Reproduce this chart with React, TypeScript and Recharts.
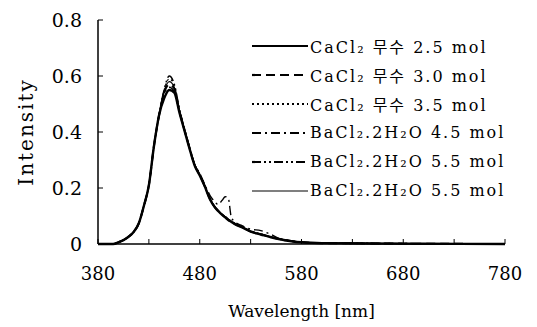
import React from 'react';
import { LineChart, Line, XAxis, YAxis, Legend } from 'recharts';

const wavelengths = [380, 395, 400, 405, 410, 415, 420, 425, 430, 435, 440, 445, 450, 455, 460, 465, 470, 475, 480, 485, 490, 495, 498, 502, 505, 508, 511, 515, 520, 530, 540, 550, 560, 570, 580, 600, 650, 700, 780];

const cacl2_25 = [0, 0, 0.006, 0.014, 0.026, 0.043, 0.073, 0.135, 0.21, 0.35, 0.46, 0.52, 0.55, 0.54, 0.47, 0.405, 0.34, 0.28, 0.245, 0.205, 0.16, 0.13, 0.118, 0.104, 0.095, 0.086, 0.079, 0.07, 0.062, 0.044, 0.034, 0.024, 0.016, 0.01, 0.006, 0.003, 0.002, 0.001, 0];
const cacl2_30 = [0, 0, 0.006, 0.014, 0.026, 0.043, 0.073, 0.135, 0.21, 0.35, 0.46, 0.54, 0.57, 0.555, 0.475, 0.408, 0.342, 0.282, 0.246, 0.206, 0.161, 0.131, 0.119, 0.105, 0.096, 0.087, 0.08, 0.071, 0.063, 0.045, 0.035, 0.025, 0.017, 0.011, 0.006, 0.003, 0.002, 0.001, 0];
const cacl2_35 = [0, 0, 0.006, 0.014, 0.026, 0.043, 0.073, 0.135, 0.21, 0.35, 0.46, 0.55, 0.59, 0.565, 0.48, 0.41, 0.345, 0.285, 0.249, 0.208, 0.163, 0.133, 0.121, 0.107, 0.098, 0.089, 0.082, 0.073, 0.065, 0.047, 0.036, 0.026, 0.018, 0.011, 0.006, 0.003, 0.002, 0.001, 0];
const bacl2_45 = [0, 0, 0.006, 0.014, 0.026, 0.043, 0.073, 0.135, 0.21, 0.35, 0.46, 0.535, 0.56, 0.545, 0.472, 0.406, 0.343, 0.284, 0.252, 0.212, 0.174, 0.15, 0.141, 0.156, 0.169, 0.164, 0.096, 0.078, 0.068, 0.053, 0.048, 0.034, 0.016, 0.01, 0.006, 0.003, 0.002, 0.001, 0];
const bacl2_55a = [0, 0, 0.006, 0.014, 0.026, 0.043, 0.073, 0.135, 0.21, 0.35, 0.46, 0.55, 0.6, 0.57, 0.482, 0.41, 0.344, 0.284, 0.248, 0.207, 0.162, 0.132, 0.12, 0.106, 0.097, 0.088, 0.081, 0.072, 0.064, 0.046, 0.035, 0.025, 0.017, 0.011, 0.006, 0.003, 0.002, 0.001, 0];
const bacl2_55b = [0, 0, 0.006, 0.014, 0.026, 0.043, 0.073, 0.135, 0.21, 0.35, 0.46, 0.545, 0.58, 0.56, 0.478, 0.408, 0.343, 0.283, 0.247, 0.206, 0.161, 0.131, 0.119, 0.105, 0.096, 0.087, 0.08, 0.071, 0.063, 0.045, 0.035, 0.025, 0.017, 0.011, 0.006, 0.003, 0.002, 0.001, 0];

const seriesLabels = [
  'CaCl₂ 무수 2.5 mol',
  'CaCl₂ 무수 3.0 mol',
  'CaCl₂ 무수 3.5 mol',
  'BaCl₂.2H₂O 4.5 mol',
  'BaCl₂.2H₂O 5.5 mol',
  'BaCl₂.2H₂O 5.5 mol',
];

const xMinorTicks = [380, 430, 480, 530, 580, 630, 680, 730, 780];
const xMajorTicks = [380, 480, 580, 680, 780];
const yTicks = [0, 0.2, 0.4, 0.6, 0.8];

const seriesStyles = [
  { key: 's1', width: 2.4, dash: undefined as string | undefined },
  { key: 's2', width: 2, dash: '9 5' },
  { key: 's3', width: 1.2, dash: '2 3' },
  { key: 's4', width: 1.4, dash: '9 4 2 4' },
  { key: 's5', width: 1.6, dash: '9 3 2 3 2 3' },
  { key: 's6', width: 1.1, dash: undefined as string | undefined },
];

const seriesValues = [cacl2_25, cacl2_30, cacl2_35, bacl2_45, bacl2_55a, bacl2_55b];

const data = wavelengths.map((w, i) => {
  const row: Record<string, number> = { w };
  seriesStyles.forEach((s, j) => {
    row[s.key] = seriesValues[j][i];
  });
  return row;
});

const FONT = "'DejaVu Serif', 'Noto Sans CJK KR', serif";

const LegendContent = () => (
  <div style={{ fontFamily: FONT, fontSize: 16, color: '#000' }}>
    {seriesStyles.map((s, i) => (
      <div key={s.key} style={{ display: 'flex', alignItems: 'center', height: 29 }}>
        <svg width={56} height={10} style={{ display: 'block' }}>
          <line x1={0} y1={5} x2={56} y2={5} stroke="#000" strokeWidth={i === 5 ? 1.2 : 2.2} strokeDasharray={s.dash} />
        </svg>
        <span style={{ marginLeft: 2, letterSpacing: 2, whiteSpace: 'nowrap' }}>{seriesLabels[i]}</span>
      </div>
    ))}
  </div>
);

export default function App() {
  return (
    <div style={{ position: 'absolute', left: 0, top: 0, background: '#fff' }}>
      <LineChart width={537} height={327} data={data} margin={{ top: 20, right: 32, bottom: 0, left: 0 }}>
        <XAxis
          dataKey="w"
          type="number"
          domain={[380, 780]}
          ticks={xMinorTicks}
          tickFormatter={(v: number) => (xMajorTicks.includes(v) ? String(v) : '')}
          height={83}
          tickSize={-5}
          tickMargin={28}
          axisLine={{ stroke: '#000', strokeWidth: 1.5 }}
          tickLine={{ stroke: '#000' }}
          tick={{ fill: '#000', fontSize: 18, fontFamily: FONT }}
          interval={0}
          label={(props: any) => {
            const vb = props.viewBox || {};
            return (
              <text x={vb.x + vb.width / 2} y={317} textAnchor="middle" fontFamily={FONT} fontSize={17} fill="#000">
                Wavelength [nm]
              </text>
            );
          }}
        />
        <XAxis xAxisId="top" orientation="top" type="number" domain={[380, 780]} height={0} tick={false} tickLine={false} axisLine={{ stroke: '#000', strokeWidth: 1.2 }} />
        <YAxis
          type="number"
          domain={[0, 0.8]}
          ticks={yTicks}
          width={98}
          tickSize={-5}
          tickMargin={21}
          tickFormatter={(v: number) => (v === 0 ? '0' : v.toFixed(1))}
          axisLine={{ stroke: '#000', strokeWidth: 1.5 }}
          tickLine={{ stroke: '#000' }}
          tick={{ fill: '#000', fontSize: 19, fontFamily: FONT }}
          interval={0}
          label={(props: any) => {
            const vb = props.viewBox || {};
            const cy = vb.y + vb.height / 2;
            return (
              <text x={33} y={cy} transform={`rotate(-90, 33, ${cy})`} textAnchor="middle" fontFamily={FONT} fontSize={20} letterSpacing={2} fill="#000">
                Intensity
              </text>
            );
          }}
        />
        <YAxis yAxisId="right" orientation="right" type="number" domain={[0, 0.8]} width={0} tick={false} tickLine={false} axisLine={{ stroke: '#000', strokeWidth: 1.2 }} />
        <Legend
          layout="vertical"
          align="center"
          verticalAlign="middle"
          content={<LegendContent />}
          wrapperStyle={{ position: 'absolute', left: 252, top: 31, width: 260, height: 180 }}
        />
        {seriesStyles.map((s) => (
          <Line
            key={s.key}
            dataKey={s.key}
            type="monotone"
            stroke="#000"
            strokeWidth={s.width}
            strokeDasharray={s.dash}
            dot={false}
            isAnimationActive={false}
          />
        ))}
      </LineChart>
    </div>
  );
}
